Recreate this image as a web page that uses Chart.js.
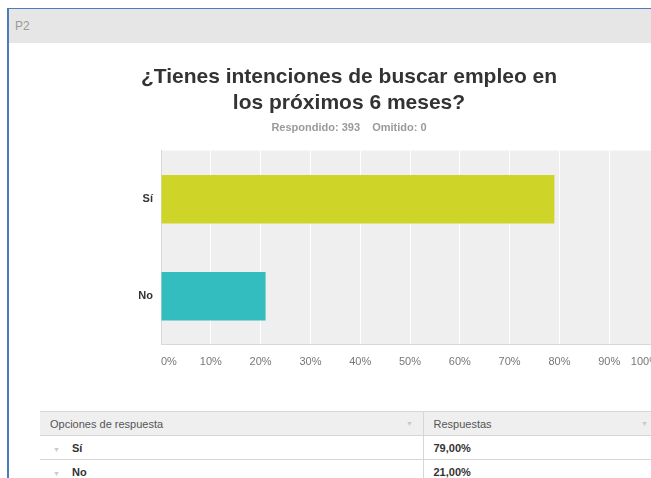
<!DOCTYPE html>
<html>
<head>
<meta charset="utf-8">
<script src="https://cdn.jsdelivr.net/npm/chart.js@4"></script>
<style>
  html, body { margin: 0; padding: 0; background: #fff; }
  body { width: 651px; height: 478px; overflow: hidden; position: relative; font-family: "Liberation Sans", Arial, sans-serif; }
  #frame { position: absolute; left: 7px; top: 8px; width: 700px; height: 500px; border-left: 2px solid #4a7dbd; border-top: 1px solid #4a7dbd; }
  #head { position: absolute; left: 9px; top: 9px; width: 700px; height: 34px; background: #e6e6e6; }
  #head span { position: absolute; left: 6px; top: 10px; font-size: 12px; color: #9a9a9a; }
  #box { position: absolute; left: 8px; top: 44px; width: 651px; height: 340px; }
  table { position: absolute; left: 40px; top: 411px; width: 660px; border-collapse: collapse; font-size: 11px; table-layout: fixed; }
  td { height: 23px; padding: 0; border-bottom: 1px solid #d6d6d6; color: #333; white-space: nowrap; }
  tr.hd td { background: #efefef; color: #555; border-top: 1px solid #d6d6d6; }
  td.c2 { border-left: 1px solid #d6d6d6; padding-left: 10px; }
  .arr, tr.hd td.arr { color: #c8c8c8; font-size: 7px; }
</style>
</head>
<body>
<div id="frame"></div>
<div id="head"><span>P2</span></div>
<div id="box"><canvas id="chart"></canvas></div>
<table id="tbl"></table>
<script>
const categories = ["Sí", "No"];
const values = [79, 21];
const barColors = ["#cfd429", "#33bdbe"];
const xTicks = ["0%", "10%", "20%", "30%", "40%", "50%", "60%", "70%", "80%", "90%", "100%"];
const answered = 393;
const skipped = 0;

// gray plot background like the survey tool
const plotBg = {
  id: "plotBg",
  beforeDraw(chart) {
    const { ctx, chartArea: a } = chart;
    ctx.save();
    ctx.fillStyle = "#efefef";
    ctx.fillRect(a.left, a.top, a.right - a.left, a.bottom - a.top);
    ctx.restore();
  },
};

new Chart(document.getElementById("chart"), {
  type: "bar",
  data: {
    labels: categories,
    datasets: [{
      data: values,
      backgroundColor: barColors,
      borderWidth: 0,
      barPercentage: 0.5,
      categoryPercentage: 1.0,
    }],
  },
  options: {
    indexAxis: "y",
    responsive: true,
    maintainAspectRatio: false,
    animation: false,
    layout: { autoPadding: false, padding: { top: 21, right: 0, bottom: 4, left: 31 } },
    plugins: {
      legend: { display: false },
      tooltip: { enabled: false },
      title: {
        display: true,
        text: ["¿Tienes intenciones de buscar empleo en", "los próximos 6 meses?"],
        color: "#333",
        font: { family: "Liberation Sans", size: 21, weight: "bold", lineHeight: 1.2 },
        padding: { top: 0, bottom: 6 },
      },
      subtitle: {
        display: true,
        text: `Respondido: ${answered}    Omitido: ${skipped}`,
        color: "#9a9a9a",
        font: { family: "Liberation Sans", size: 11, weight: "bold", lineHeight: 1.2 },
        padding: { top: 0, bottom: 16 },
      },
    },
    scales: {
      x: {
        min: 0,
        max: 100,
        afterFit: (s) => { s.paddingLeft = 0; s.paddingRight = 0; },
        ticks: {
          stepSize: 10,
          color: "#777",
          font: { family: "Liberation Sans", size: 11 },
          padding: 11,
          maxRotation: 0,
          align: "inner",
          callback: (v) => xTicks[v / 10],
        },
        grid: { color: "#ffffff", lineWidth: 1, drawTicks: false },
        border: { color: "#d8d8d8" },
      },
      y: {
        afterFit: (s) => { s.width = 122; },
        ticks: {
          color: "#333",
          font: { family: "Liberation Sans", size: 11, weight: "bold" },
          padding: 8,
        },
        grid: { display: false, drawTicks: false },
        border: { color: "#d8d8d8" },
      },
    },
  },
  plugins: [plotBg],
});

// answer table under the chart
const fmt = (v) => v.toFixed(2).replace(".", ",") + "%";
let rows = '<colgroup><col style="width:360px"><col style="width:23px"><col style="width:218px"><col style="width:59px"></colgroup>' +
  '<tr class="hd"><td style="padding-left:10px">Opciones de respuesta</td>' +
  '<td class="arr" style="padding-left:6px">&#9660;</td>' +
  '<td class="c2">Respuestas</td><td class="arr" style="padding-left:0">&#9660;</td></tr>';
categories.forEach((c, i) => {
  rows += `<tr><td><span class="arr" style="margin-left:13px">&#9660;</span>` +
    `<b style="margin-left:12px">${c}</b></td><td></td>` +
    `<td class="c2" colspan="2"><b style="font-weight:600">${fmt(values[i])}</b></td></tr>`;
});
document.getElementById("tbl").innerHTML = rows;
</script>
</body>
</html>
